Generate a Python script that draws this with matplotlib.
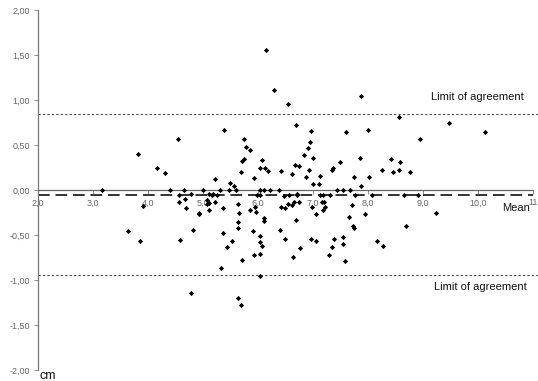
import matplotlib
matplotlib.use("Agg")
import matplotlib.pyplot as plt
from matplotlib.ticker import FixedLocator

# ---- data (mean of the two measurements, difference) ----
mean_vals = [
    6.15, 6.29, 6.55, 7.88, 5.38, 6.69, 6.97, 7.60, 8.00, 8.56, 8.95, 9.47, 10.13,
    5.74, 5.78, 5.85, 5.74, 5.71, 5.69, 5.22, 5.49, 5.57, 5.93, 6.08, 6.04, 6.13,
    6.19, 6.41, 6.61, 6.67, 6.75, 6.83, 6.90, 6.95, 7.00, 6.87, 6.92, 7.00, 7.11,
    7.13, 7.35, 7.36, 7.49, 7.75, 7.85, 7.88, 8.02, 8.25, 8.41, 8.46, 8.56, 8.59,
    8.76, 3.82, 4.16, 4.31, 4.55,
    3.16, 4.40, 4.65, 5.00, 5.31, 5.48, 5.60, 6.04, 6.10, 6.21, 6.39, 7.43, 7.55, 7.67,
    4.79, 5.10, 5.19, 5.26, 4.57, 4.67, 6.70,
    5.98, 6.04, 6.47, 6.57, 6.70, 7.13, 7.31, 7.76, 8.07, 8.65, 8.91, 5.16, 7.19,
    3.91, 3.64, 3.85, 4.56, 4.69, 4.58, 4.81, 4.92, 4.92, 5.07, 5.11, 5.08, 5.11,
    5.22, 5.36, 5.37, 5.53, 5.43, 5.32, 4.78, 5.64, 5.66, 5.64, 5.64, 5.70, 5.64,
    5.69, 5.85, 5.95, 5.96, 5.90, 6.10, 6.10, 6.04, 6.04, 6.08, 5.93, 6.04, 6.04,
    6.41, 6.49, 6.55, 6.61, 6.65, 6.75, 6.98, 7.05, 7.16, 7.20, 7.22, 7.18, 6.40,
    6.49, 6.69, 6.76, 6.63, 6.96, 7.05, 7.29, 7.34, 7.38, 7.54, 7.54, 7.58, 7.66,
    7.72, 7.75, 7.70, 7.95, 8.16, 8.28, 8.69, 9.24,
]
diff_vals = [
    1.56, 1.11, 0.96, 1.04, 0.67, 0.72, 0.66, 0.64, 0.67, 0.81, 0.57, 0.74, 0.65,
    0.57, 0.48, 0.45, 0.35, 0.32, 0.20, 0.12, 0.08, 0.04, 0.13, 0.33, 0.24, 0.25,
    0.21, 0.21, 0.18, 0.28, 0.27, 0.39, 0.47, 0.53, 0.36, 0.14, 0.22, 0.07, 0.07,
    0.16, 0.22, 0.24, 0.31, 0.14, 0.36, 0.05, 0.14, 0.22, 0.35, 0.20, 0.22, 0.31,
    0.20, 0.40, 0.25, 0.19, 0.57,
    0.00, 0.00, 0.00, 0.00, 0.00, 0.00, 0.00, 0.00, 0.00, 0.00, 0.00, 0.00, 0.00, 0.00,
    -0.04, -0.04, -0.04, -0.06, -0.06, -0.10, -0.04,
    -0.06, -0.06, -0.07, -0.06, -0.06, -0.06, -0.06, -0.06, -0.06, -0.06, -0.06, -0.06, -0.06,
    -0.18, -0.45, -0.57, -0.13, -0.20, -0.55, -0.44, -0.25, -0.27, -0.11, -0.14, -0.16, -0.22,
    -0.13, -0.20, -0.48, -0.57, -0.63, -0.87, -1.14, -0.16, -0.26, -0.36, -0.42, -0.78, -1.20,
    -1.28, -0.22, -0.19, -0.24, -0.45, -0.31, -0.34, -0.51, -0.58, -0.62, -0.72, -0.71, -0.96,
    -0.19, -0.20, -0.15, -0.17, -0.13, -0.13, -0.19, -0.27, -0.13, -0.13, -0.19, -0.22, -0.44,
    -0.54, -0.33, -0.64, -0.74, -0.54, -0.57, -0.72, -0.63, -0.54, -0.52, -0.60, -0.79, -0.30,
    -0.40, -0.42, -0.17, -0.27, -0.57, -0.62, -0.40, -0.26,
]
mean_diff = -0.06
upper_loa = 0.84
lower_loa = -0.94

x_ticks = [2, 3, 4, 5, 6, 7, 8, 9, 10, 11]
x_ticklabels = ["2,0", "3,0", "4,0", "5,0", "6,0", "7,0", "8,0", "9,0", "10,0", "11"]
y_ticks = [2.0, 1.5, 1.0, 0.5, 0.0, -0.5, -1.0, -1.5, -2.0]
y_ticklabels = ["2,00", "1,50", "1,00", "0,50", "0,00", "-0,50", "-1,00", "-1,50", "-2,00"]

plt.rcParams['font.family'] = ['Liberation Sans', 'DejaVu Sans']

W, H = 538, 381
fig = plt.figure(figsize=(W / 100, H / 100), dpi=100)
ax = fig.add_axes([38 / W, 11 / H, (533 - 38) / W, (371 - 11) / H])
ax.set_xlim(2, 11)
ax.set_ylim(-2, 2)

# reference lines
ax.plot([2, 11.2], [upper_loa, upper_loa], color='#444444', lw=0.8,
        linestyle=(0, (2, 2)), clip_on=False)
ax.plot([2, 11.2], [lower_loa, lower_loa], color='#444444', lw=0.8,
        linestyle=(0, (2, 2)), clip_on=False)
ax.plot([2, 11], [mean_diff, mean_diff], color='#333333', lw=1.4,
        linestyle=(0, (6, 3)), clip_on=False)

ax.scatter(mean_vals, diff_vals, marker='D', s=7, color='black', zorder=5,
           linewidths=0)

# axes styling
for s in ['top', 'right']:
    ax.spines[s].set_visible(False)
ax.spines['bottom'].set_position(('data', 0))
ax.spines['bottom'].set_color('#666666')
ax.spines['bottom'].set_linewidth(0.9)
ax.spines['left'].set_color('#777777')
ax.spines['left'].set_linewidth(0.9)

ax.xaxis.set_major_locator(FixedLocator(x_ticks))
ax.set_xticklabels(x_ticklabels)
ax.yaxis.set_major_locator(FixedLocator(y_ticks))
ax.set_yticklabels(y_ticklabels)
ax.tick_params(axis='x', direction='out', length=3, width=0.6, color='#777777',
               labelsize=6.5, labelcolor='#666666', pad=3)
ax.tick_params(axis='y', direction='out', length=3, width=0.6, color='#777777',
               labelsize=6.5, labelcolor='#666666', pad=3)

ax.text(524, H - 97, "Limit of agreement", transform=None, fontsize=8,
        ha='right', va='center', color='#111111')
ax.text(527, H - 287, "Limit of agreement", transform=None, fontsize=8,
        ha='right', va='center', color='#111111')
ax.text(530, H - 208, "Mean", transform=None, fontsize=8,
        ha='right', va='center', color='#111111')
ax.text(39, H - 376, "cm", transform=None, fontsize=9,
        ha='left', va='center', color='#111111')

fig.savefig("out.png", dpi=100)
